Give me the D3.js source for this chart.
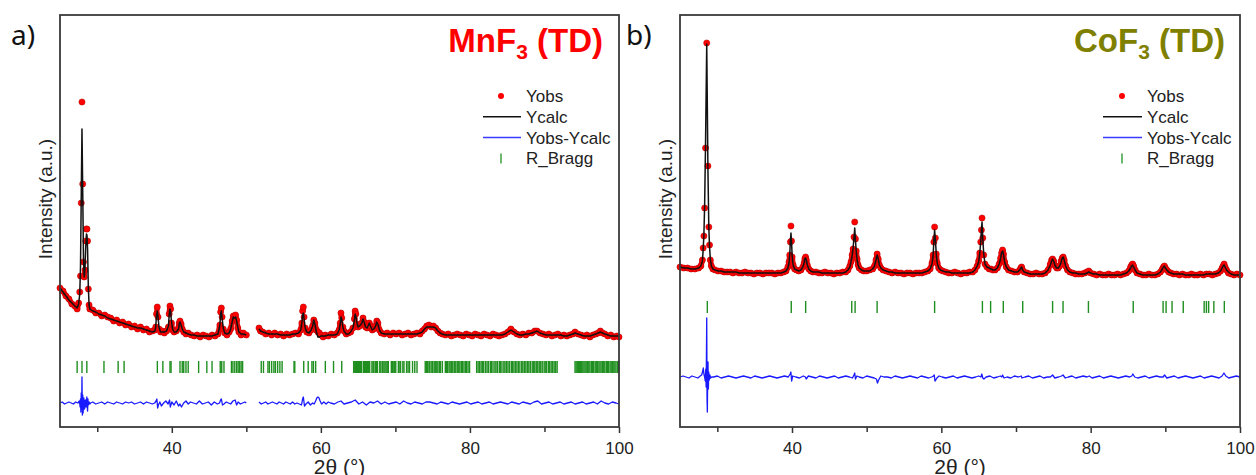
<!DOCTYPE html>
<html><head><meta charset="utf-8">
<script src="https://cdn.jsdelivr.net/npm/d3@7"></script>
<style>body{margin:0;background:#fff}svg{display:block}</style>
</head><body>
<svg id="c" width="1256" height="475"></svg>
<script>
// ---------- shared axis / legend text ----------
const xTicks = [30, 40, 50, 60, 70, 80, 90, 100];
const xTickLabels = ["", "40", "", "60", "", "80", "", "100"];
const legendLabels = ["Yobs", "Ycalc", "Yobs-Ycalc", "R_Bragg"];

// ---------- panel a : MnF3 (TD) ----------
const aTheta = [
 25.0,25.4,25.8,26.2,26.6,27.0,27.3,
 27.5,27.65,27.75,27.85,27.95,28.05,28.15,28.25,28.35,28.45,28.55,28.62,28.7,28.8,28.9,29.0,
 29.4,29.8,30.2,30.6,31.0,31.4,31.8,32.2,32.6,33.0,33.4,33.8,34.2,34.6,35.0,35.4,35.8,36.2,36.6,37.0,37.4,
 37.75,37.85,37.95,38.05,38.15,38.3,38.5,38.75,39.0,39.3,
 39.55,39.65,39.75,39.85,39.95,40.1,40.3,40.6,
 40.9,41.0,41.1,41.25,41.4,41.6,41.9,42.2,
 42.6,43.0,43.4,43.8,44.2,44.6,45.0,45.4,45.8,46.2,
 46.45,46.55,46.65,46.75,46.9,47.1,47.4,47.7,
 47.9,48.1,48.25,48.4,48.55,48.7,48.85,49.0,49.3,49.6,50.0,
 50.85,
 51.7,51.9,52.2,52.6,53.0,53.4,53.8,54.2,54.6,55.0,55.4,55.8,56.2,56.6,57.0,57.3,
 57.45,57.55,57.65,57.75,57.9,58.1,58.4,58.7,
 58.9,59.05,59.2,59.4,59.6,59.8,60.0,60.3,60.6,61.0,61.4,61.8,62.2,
 62.45,62.6,62.7,62.8,62.95,63.1,63.4,63.7,64.0,64.3,
 64.5,64.6,64.7,64.85,65.0,65.2,65.5,65.65,65.8,66.0,66.2,
 66.4,66.5,66.65,66.9,67.1,67.35,67.5,67.65,67.85,68.1,
 68.5,68.9,69.3,69.7,70.1,70.5,70.9,71.3,71.7,72.1,72.5,72.9,73.3,73.6,
 73.9,74.2,74.5,74.8,75.1,75.4,75.7,76.0,76.3,
 76.7,77.1,77.5,77.9,78.3,78.7,79.1,79.5,79.9,80.3,80.7,81.1,81.5,81.9,82.3,82.7,83.1,83.5,83.9,84.3,
 84.7,85.1,85.5,85.9,86.3,86.7,87.1,87.5,87.9,88.3,88.7,89.0,89.4,89.8,
 90.2,90.6,91.0,91.4,91.8,92.2,92.6,93.0,93.4,93.8,94.1,94.5,94.9,95.3,95.7,96.1,96.5,96.9,
 97.2,97.5,97.8,98.1,98.5,98.9,99.3,99.7,100.0];
const aObs = [
 139,136,131,128,123,121,118,
 124,135,151,224,325,243,165,150,157,186,198,198,186,138,122,118,
 117,114,114,111,112,110,109,106,107,104,105,102,103,100,101,98,100,97,98,95,96,
 97,100,113,120,110,98,95,96,94,96,
 100,113,121,118,104,97,95,96,
 99,104,106,103,98,95,93,94,
 92,91,92,90,92,91,90,92,91,93,
 102,115,119,110,98,94,92,95,
 98,106,111,109,112,107,99,95,92,94,92,
 null,
 99,96,95,93,94,92,94,92,93,91,93,92,93,94,93,97,
 104,116,120,110,99,95,94,97,
 101,107,104,97,95,94,92,90,92,91,93,92,94,
 97,104,114,109,100,96,93,94,95,99,
 108,116,113,103,100,101,104,109,105,100,99,
 102,104,101,97,98,101,106,104,97,94,
 93,94,92,94,93,94,92,93,94,92,93,94,93,96,
 98,101,102,100,101,99,96,94,93,
 92,93,91,92,93,92,91,93,92,91,93,92,91,93,92,91,93,92,91,92,
 93,95,98,95,93,92,93,92,94,94,96,96,94,93,
 92,93,91,92,93,91,92,91,92,93,95,93,92,91,92,90,92,93,
 94,96,94,93,91,92,90,91,90];
const aCalc = [
 139,135,131,127,124,121,119,
 123,133,160,230,298,235,168,150,158,180,193,192,178,140,122,118,
 116,115,113,112,111,109,108,107,106,105,104,103,102,101,100,99,99,98,97,96,95,
 96,101,112,116,110,99,95,95,95,96,
 101,112,118,115,106,98,95,95,
 98,103,105,102,98,95,94,93,
 92,92,91,91,91,91,91,91,92,93,
 102,113,116,109,99,94,93,94,
 98,105,110,109,110,106,100,95,93,93,92,
 null,
 98,96,95,94,93,93,93,93,92,92,92,92,93,93,94,97,
 104,112,114,108,99,95,94,97,
 101,107,103,95,90,90,91,91,91,92,92,92,93,
 97,103,110,108,100,96,93,93,95,99,
 107,113,111,104,100,101,104,108,105,100,99,
 102,104,101,97,98,101,105,103,97,94,
 93,93,93,93,93,93,93,93,93,93,93,93,94,95,
 98,100,100,100,100,99,96,94,93,
 92,92,92,92,92,92,92,92,92,92,92,92,92,92,92,92,92,92,92,92,
 93,95,97,95,93,92,92,93,93,94,95,96,94,93,
 92,92,92,92,92,92,91,91,92,93,94,93,92,91,91,91,92,93,
 94,95,94,93,92,91,91,91,91];
const aDiffTheta = [
 25.0,25.3,25.6,25.9,26.2,26.5,26.8,27.1,27.4,27.6,
 27.7,27.75,27.8,27.85,27.9,27.95,28.0,28.05,28.1,28.15,28.2,28.3,28.4,28.5,28.6,28.7,28.75,28.8,28.9,29.0,29.1,
 29.4,29.8,30.2,30.6,31.0,31.4,31.8,32.2,32.6,33.0,33.4,33.8,34.2,34.6,35.0,35.4,35.8,36.2,36.6,37.0,37.4,37.7,
 37.9,38.0,38.1,38.2,38.4,38.6,38.9,39.2,39.5,39.7,39.8,40.0,40.3,40.6,40.9,41.1,41.3,41.6,41.9,42.2,42.5,
 42.9,43.3,43.7,44.1,44.5,44.9,45.3,45.7,46.1,46.4,46.55,46.65,46.8,47.0,47.3,47.6,47.9,48.2,48.5,48.7,48.9,49.2,49.5,49.8,50.0,
 50.85,
 51.7,52.0,52.3,52.6,52.9,53.2,53.5,53.8,54.1,54.4,54.7,55.0,55.3,55.6,55.9,56.2,56.5,56.8,57.1,57.4,57.55,57.65,57.8,58.0,58.3,58.6,58.9,59.1,59.3,59.45,59.6,59.75,59.9,60.1,60.4,60.7,61.0,
 61.3,61.8,62.3,62.7,63.1,63.6,64.1,64.6,65.1,65.6,
 66.1,66.6,67.1,67.6,68.1,68.6,69.1,69.6,70.1,70.6,
 71.1,71.6,72.1,72.6,73.1,73.6,74.1,74.6,75.1,75.6,
 76.1,76.6,77.1,77.6,78.1,78.6,79.1,79.6,80.1,80.6,
 81.1,81.6,82.1,82.6,83.1,83.6,84.1,84.6,85.1,85.6,
 86.1,86.6,87.1,87.6,88.1,88.6,89.1,89.6,90.1,90.6,
 91.1,91.6,92.1,92.6,93.1,93.6,94.1,94.6,95.1,95.6,
 96.1,96.6,97.1,97.6,98.1,98.6,99.1,99.6,100.0];
const aDiff = [
 0,1,-1,0,1,0,-1,1,0,2,
 -4,4,-9,10,-6,26,-12,8,-10,-3,5,-6,3,-4,6,-8,4,-2,1,-1,0,
 1,-1,0,1,-1,1,0,-1,1,0,-1,1,0,1,-1,0,1,-1,1,0,-1,0,
 2,4,-5,-2,1,-3,0,2,-1,3,-4,1,-2,2,-3,-1,-4,0,2,-1,1,
 0,-1,2,-1,0,1,-2,1,-1,0,3,4,-2,-1,1,0,-1,2,3,-2,1,-1,0,1,0,
 null,
 1,-1,0,1,-1,0,1,0,-1,1,0,-1,1,0,-1,1,-1,0,-1,-2,4,6,-3,-1,1,-2,0,-1,2,5,6,5,2,-1,1,-1,1,
 0,-1,1,2,-1,0,1,3,-1,1,
 -2,1,0,2,-1,1,-1,0,1,-1,
 2,0,-1,1,0,-1,1,1,0,-1,
 1,0,-1,1,0,-1,0,1,-1,0,
 1,-1,0,1,-1,0,1,0,-1,1,
 0,-1,1,0,-1,1,2,-1,0,1,
 -1,0,1,-1,0,1,-1,0,1,-1,
 0,1,-1,2,0,-1,1,0,-1];
const aBragg = [
 27.3,27.95,28.6,30.9,32.8,33.6,38.06,38.8,39.76,39.9,41.1,41.4,41.6,41.9,42.2,43.6,44.7,45.4,
 46.5,46.7,47.0,48.0,48.2,48.45,48.7,48.9,49.1,49.3,49.5,
 52.0,52.3,52.9,53.1,53.4,53.7,53.9,54.2,54.5,54.8,56.4,56.5,57.7,58.3,58.8,59.0,59.3,60.6,61.7,62.8,
 64.4,64.55,64.65,64.8,64.9,65.05,65.2,65.3,65.45,65.7,65.85,66.0,66.1,66.25,66.4,66.55,
 66.85,67.0,67.1,67.3,67.45,67.6,67.9,68.05,68.25,68.45,68.6,68.75,68.9,69.05,
 69.45,69.6,69.7,69.9,70.05,70.4,70.6,70.7,71.0,71.15,71.5,71.7,71.9,72.3,72.6,72.9,
 74.0,74.15,74.3,74.5,74.6,74.8,75.0,75.2,75.35,75.55,75.7,75.9,76.05,76.3,
 76.7,76.85,77.0,77.2,77.35,77.55,77.7,77.9,78.1,78.3,78.5,78.65,78.85,79.0,79.2,79.4,79.55,79.75,79.95,
 80.9,81.1,81.3,81.5,81.7,81.85,82.1,82.3,82.5,82.75,82.9,83.1,83.35,83.5,83.7,83.95,84.1,84.3,84.55,84.7,
 84.9,85.1,85.3,85.55,85.7,85.9,86.1,86.3,86.5,86.7,86.95,87.1,87.3,87.5,87.7,87.9,88.1,88.35,88.5,88.7,
 88.9,89.1,89.3,89.5,89.7,89.95,90.1,90.3,90.55,90.7,90.9,91.1,91.3,91.5,91.7,
 94.1,94.25,94.4,94.55,94.7,94.85,95.0,95.15,95.3,95.45,95.6,95.8,95.95,96.1,96.3,96.45,96.6,96.8,96.95,
 97.1,97.3,97.45,97.6,97.8,97.95,98.1,98.3,98.45,98.6,98.8,98.95,99.1,99.3,99.45,99.6,99.8,99.95];

// ---------- panel b : CoF3 (TD) ----------
const bTheta = [
 25.0,25.5,26.0,26.5,27.0,27.5,27.8,28.0,
 28.1,28.2,28.3,28.42,28.58,28.74,28.86,28.96,29.06,29.2,29.4,
 29.7,30.1,30.5,30.9,31.3,31.7,32.1,32.5,32.9,33.3,33.7,34.1,34.5,34.9,35.3,35.7,36.1,36.5,36.9,37.3,37.7,38.1,38.5,38.9,39.2,39.45,
 39.6,39.7,39.78,39.86,39.94,40.02,40.15,40.35,40.6,40.9,41.2,41.45,
 41.62,41.72,41.82,41.92,42.05,42.25,42.5,42.8,
 43.2,43.6,44.0,44.4,44.8,45.2,45.6,46.0,46.4,46.8,47.2,47.5,47.75,
 47.9,48.05,48.18,48.3,48.4,48.5,48.6,48.72,48.85,49.0,49.3,49.6,
 50.0,50.4,50.8,51.05,51.25,51.4,51.55,51.7,51.9,52.2,52.6,
 53.0,53.4,53.8,54.2,54.6,55.0,55.4,55.8,56.2,56.6,57.0,57.4,57.8,58.2,58.5,58.75,
 58.9,59.0,59.1,59.2,59.32,59.45,59.65,59.9,60.2,
 60.6,61.0,61.4,61.8,62.2,62.6,63.0,63.4,63.8,64.2,64.5,64.8,65.0,
 65.15,65.28,65.37,65.45,65.55,65.68,65.85,66.1,66.4,66.65,66.9,67.2,67.5,67.75,67.95,
 68.08,68.2,68.32,68.48,68.7,69.0,69.4,69.8,70.2,70.5,
 70.65,70.75,70.88,71.1,71.5,71.9,72.3,72.7,73.1,73.5,73.9,74.3,74.6,
 74.78,74.9,75.05,75.25,75.45,75.65,75.85,76.05,76.2,76.32,76.45,76.65,76.9,77.2,
 77.6,78.0,78.4,78.8,79.2,79.5,79.75,80.0,80.4,80.8,81.2,81.6,82.0,82.4,82.8,83.2,83.6,84.0,84.4,84.8,85.1,85.35,
 85.5,85.62,85.75,85.95,86.2,86.6,87.0,87.4,87.8,88.2,88.6,89.0,89.35,89.6,
 89.75,89.88,90.0,90.2,90.45,90.75,91.1,91.5,91.9,92.3,92.7,93.1,93.5,93.9,94.3,94.7,95.1,95.5,95.9,96.3,96.7,97.1,97.4,97.6,
 97.75,97.87,98.0,98.2,98.45,98.8,99.2,99.6,100.0];
const bObs = [
 160,159,159,158,158,159,161,167,
 179,191,219,279,384,261,200,182,167,161,158,
 157,156,156,155,155,155,154,155,154,154,155,154,154,153,154,154,153,154,154,154,153,154,154,155,156,160,
 165,172,185,201,186,170,162,158,157,156,157,160,
 164,168,170,167,162,158,156,155,
 155,154,154,155,154,154,153,154,154,155,155,157,161,
 165,172,178,190,205,188,176,168,162,159,157,156,
 156,157,158,161,167,173,168,162,159,157,156,
 155,154,155,154,154,153,154,154,153,154,154,154,155,156,158,164,
 172,185,200,189,173,164,159,157,156,
 155,154,154,155,154,153,154,154,155,155,157,161,166,
 174,185,197,209,189,172,163,160,158,158,157,157,159,163,169,
 174,177,173,165,160,157,156,155,155,157,
 159,160,157,155,154,153,153,154,153,153,154,157,163,
 167,168,166,161,159,159,161,166,169,170,167,161,157,155,
 154,153,153,153,154,155,156,154,153,152,153,152,152,153,152,152,153,152,153,154,156,160,
 162,163,161,157,154,153,152,152,153,152,152,153,155,158,
 160,161,159,157,155,154,153,153,152,153,152,152,153,152,152,153,152,153,153,152,153,154,156,159,
 161,163,160,157,154,153,152,153,152];
const bCalc = [
 160,159,159,158,158,159,161,166,
 177,192,222,283,383,258,199,180,168,161,158,
 157,156,156,155,155,155,155,155,154,154,154,154,154,154,154,154,154,154,154,154,154,154,154,155,156,159,
 164,172,186,194,185,171,162,158,157,156,157,160,
 164,168,169,167,162,158,156,155,
 155,155,154,154,154,154,154,154,154,154,155,157,160,
 165,171,179,189,199,187,176,167,162,159,157,156,
 156,156,158,161,167,172,168,162,159,157,156,
 155,155,154,154,154,154,154,154,154,154,154,154,155,156,158,163,
 172,186,197,188,173,164,159,157,156,
 155,155,154,154,154,154,154,154,154,155,157,161,165,
 174,186,198,205,188,173,163,160,159,158,157,157,159,163,169,
 174,176,173,165,160,157,156,155,155,157,
 159,160,157,155,154,153,153,153,153,153,154,157,162,
 166,168,166,161,159,159,161,165,169,170,167,161,157,155,
 154,154,153,153,153,154,155,154,153,153,152,152,152,152,152,152,152,152,153,154,156,159,
 161,162,160,157,154,153,152,152,152,152,152,153,155,158,
 160,161,159,157,155,154,153,153,153,153,152,152,152,152,152,152,152,153,153,153,153,154,156,159,
 161,162,160,157,155,153,152,152,152];
const bDiffTheta = [
 25.0,25.4,25.8,26.2,26.6,27.0,27.4,27.7,27.9,28.05,28.12,28.2,28.3,
 28.38,28.45,28.5,28.55,28.58,28.62,28.66,28.7,28.75,28.8,28.85,28.92,29.0,29.1,29.25,
 29.5,30.0,30.5,31.0,31.5,32.0,32.5,33.0,33.5,34.0,34.5,35.0,35.5,36.0,36.5,37.0,37.5,38.0,38.5,39.0,39.5,
 39.75,39.85,39.95,40.1,40.5,41.0,41.5,41.8,41.9,
 42.2,42.7,43.2,43.7,44.2,44.7,45.2,45.7,46.2,46.7,47.2,47.7,
 48.1,48.3,48.4,48.5,48.7,49.0,49.5,50.0,50.5,51.0,51.3,51.45,51.6,51.9,52.3,
 52.8,53.3,53.8,54.3,54.8,55.3,55.8,56.3,56.8,57.3,
 57.8,58.3,58.7,58.95,59.05,59.15,59.25,59.4,59.7,60.1,
 60.6,61.1,61.6,62.1,62.6,63.1,63.6,64.1,64.6,65.0,
 65.3,65.42,65.55,65.7,66.0,66.5,67.0,67.5,67.9,68.1,
 68.2,68.4,68.8,69.3,69.8,70.3,70.7,70.8,71.2,71.7,
 72.2,72.7,73.2,73.7,74.2,74.6,74.9,75.2,75.7,76.1,
 76.3,76.6,77.0,77.5,78.0,78.5,79.0,79.5,79.8,80.2,
 80.7,81.2,81.7,82.2,82.7,83.2,83.7,84.2,84.7,85.2,
 85.5,85.65,85.9,86.3,86.8,87.3,87.8,88.3,88.8,89.3,
 89.7,89.9,90.2,90.7,91.2,91.7,92.2,92.7,93.2,93.7,
 94.2,94.7,95.2,95.7,96.2,96.7,97.2,97.6,97.85,98.1,
 98.5,99.0,99.5,100.0];
const bDiff = [
 0,1,0,-1,1,0,-1,1,2,6,9,3,0,
 -4,8,-10,30,59,-20,-35,-8,15,-12,5,-3,2,-1,0,
 0,1,-1,0,1,0,-1,0,1,0,-1,1,0,-1,0,1,0,-1,0,1,0,
 3,5,-4,1,0,-1,1,0,-2,
 1,0,-1,1,0,-1,0,1,-1,0,1,0,
 -1,2,4,-2,1,0,-1,1,0,-1,-2,-6,-3,1,0,
 0,-1,1,0,-1,0,1,0,-1,1,
 0,-1,0,1,2,-4,-3,-1,1,0,
 -1,0,1,-1,0,1,0,-1,0,1,
 0,3,-1,-2,0,1,-1,0,1,0,
 2,-1,0,-1,1,0,1,-1,0,1,
 -1,0,1,-1,0,0,2,-1,0,1,
 2,-1,0,1,-1,0,1,0,1,-1,
 0,1,-1,0,1,0,-1,0,1,0,
 1,3,0,-1,0,1,-1,0,1,0,
 0,2,-1,0,1,-1,0,1,0,-1,
 0,1,-1,0,1,0,-1,1,4,1,
 -1,0,1,0];
const bBragg = [28.66,39.9,41.83,48.0,48.45,51.4,59.1,65.5,66.6,68.3,70.9,74.9,76.3,79.7,
 85.7,89.7,90.1,90.9,92.4,95.2,95.5,95.8,96.5,97.9];

// ---------- drawing ----------
const svg = d3.select("#c");
const SANS = "'Liberation Sans', Arial, sans-serif";

function drawPanel(o) {
  const x = d3.scaleLinear().domain([25, 100]).range([o.left, o.right]);
  const y = d3.scaleLinear().domain([0, 412]).range([427, 15]);
  const g = svg.append("g");

  const obs = o.theta.map((t, i) => ({t, v: o.obs[i]}));
  const calc = o.theta.map((t, i) => ({t, v: o.calc[i]}));
  const diff = o.dTheta.map((t, i) => ({t, v: o.diff[i] == null ? null : o.diff[i] + o.diffOffset}));
  const line = d3.line().defined(d => d.v != null).x(d => x(d.t)).y(d => y(d.v));

  // Bragg positions
  g.append("g").selectAll("line").data(o.bragg).join("line")
    .attr("x1", d => x(d)).attr("x2", d => x(d))
    .attr("y1", y(o.braggLo)).attr("y2", y(o.braggHi))
    .attr("stroke", "#1f8f1f").attr("stroke-width", 1.4);

  // difference curve
  g.append("path").datum(diff).attr("d", line)
    .attr("fill", "none").attr("stroke", "#1a1aff").attr("stroke-width", 1.3)
    .attr("stroke-linejoin", "round");

  // observed: dense points form a red band on gentle stretches; steep flanks show single dots
  const pairs = [];
  for (let i = 1; i < obs.length; i++) {
    const p = obs[i - 1], q = obs[i];
    if (p.v == null || q.v == null) continue;
    if (Math.abs(y(p.v) - y(q.v)) < 9) pairs.push([p, q]);
  }
  g.append("g").selectAll("line").data(pairs).join("line")
    .attr("x1", d => x(d[0].t)).attr("y1", d => y(d[0].v))
    .attr("x2", d => x(d[1].t)).attr("y2", d => y(d[1].v))
    .attr("stroke", "#e81010").attr("stroke-width", 5.5).attr("stroke-linecap", "round");
  g.append("g").selectAll("circle").data(obs.filter(d => d.v != null)).join("circle")
    .attr("cx", d => x(d.t)).attr("cy", d => y(d.v)).attr("r", 3.1)
    .attr("fill", "#ff0000").attr("stroke", "#b00000").attr("stroke-width", 0.5);

  // calculated
  g.append("path").datum(calc).attr("d", line)
    .attr("fill", "none").attr("stroke", "#111").attr("stroke-width", 1.5)
    .attr("stroke-linejoin", "round");

  // x axis
  const ax = g.append("g").attr("transform", "translate(0,427)")
    .call(d3.axisBottom(x).tickValues(xTicks)
      .tickFormat((d, i) => xTickLabels[i]).tickSizeOuter(0));
  ax.select(".domain").remove();
  ax.selectAll(".tick line").attr("y2", d => (d % 20 === 0 ? 6 : 5))
    .attr("stroke", "#333").attr("stroke-width", 1.5);
  ax.selectAll(".tick text").attr("y", 27).attr("dy", 0)
    .attr("font-family", SANS).attr("font-size", 17).attr("fill", "#222");

  // frame
  g.append("rect").attr("x", o.left).attr("y", 15)
    .attr("width", o.right - o.left).attr("height", 412)
    .attr("fill", "none").attr("stroke", "#3a3a3a").attr("stroke-width", 1.8);

  // axis titles
  g.append("text").attr("x", (o.left + o.right) / 2).attr("y", 474)
    .attr("text-anchor", "middle").attr("font-family", SANS).attr("font-size", 21)
    .attr("fill", "#222").text("2θ (°)");
  g.append("text").attr("transform", `translate(${o.ylabX},199) rotate(-90)`)
    .attr("text-anchor", "middle").attr("font-family", SANS).attr("font-size", 19)
    .attr("fill", "#222").text("Intensity (a.u.)");

  // panel letter
  g.append("text").attr("x", o.letterX).attr("y", 45)
    .attr("font-family", "'Noto Sans', 'Open Sans', sans-serif").attr("font-size", 28)
    .attr("fill", "#111").text(o.letter);

  // title with subscript
  const tt = g.append("text").attr("x", o.titleX).attr("y", 52).attr("text-anchor", "end")
    .attr("font-family", SANS).attr("font-weight", "bold").attr("font-size", 33)
    .attr("fill", o.titleColor);
  tt.append("tspan").text(o.titleMain);
  tt.append("tspan").attr("dy", 7).attr("font-size", 21).text("3");
  tt.append("tspan").attr("dy", -7).text(" (TD)");

  // legend
  const lg = g.append("g");
  const rowY = i => 96 + i * 20.8;
  lg.append("circle").attr("cx", o.legSymX).attr("cy", rowY(0)).attr("r", 3).attr("fill", "#ff0000");
  lg.append("line").attr("x1", o.legLineX1).attr("x2", o.legLineX2)
    .attr("y1", rowY(1)).attr("y2", rowY(1)).attr("stroke", "#111").attr("stroke-width", 1.5);
  lg.append("line").attr("x1", o.legLineX1).attr("x2", o.legLineX2)
    .attr("y1", rowY(2)).attr("y2", rowY(2)).attr("stroke", "#3a3aff").attr("stroke-width", 1.5);
  lg.append("line").attr("x1", o.legSymX).attr("x2", o.legSymX)
    .attr("y1", rowY(3) - 5).attr("y2", rowY(3) + 5).attr("stroke", "#2e9a2e").attr("stroke-width", 1.4);
  lg.selectAll("text").data(legendLabels).join("text")
    .attr("x", o.legTextX).attr("y", (d, i) => rowY(i) + 6)
    .attr("font-family", SANS).attr("font-size", 17).attr("fill", "#222").text(d => d);
}

drawPanel({
  left: 60, right: 619, theta: aTheta, obs: aObs, calc: aCalc,
  dTheta: aDiffTheta, diff: aDiff, diffOffset: 24, bragg: aBragg, braggLo: 54, braggHi: 66,
  ylabX: 52, letter: "a)", letterX: 11, titleX: 603, titleMain: "MnF", titleColor: "#ff0000",
  legSymX: 501, legLineX1: 483, legLineX2: 521, legTextX: 526
});
drawPanel({
  left: 680, right: 1240, theta: bTheta, obs: bObs, calc: bCalc,
  dTheta: bDiffTheta, diff: bDiff, diffOffset: 50, bragg: bBragg, braggLo: 114, braggHi: 126,
  ylabX: 672, letter: "b)", letterX: 626, titleX: 1225, titleMain: "CoF", titleColor: "#808000",
  legSymX: 1122, legLineX1: 1103, legLineX2: 1142, legTextX: 1147
});
</script>
</body></html>
